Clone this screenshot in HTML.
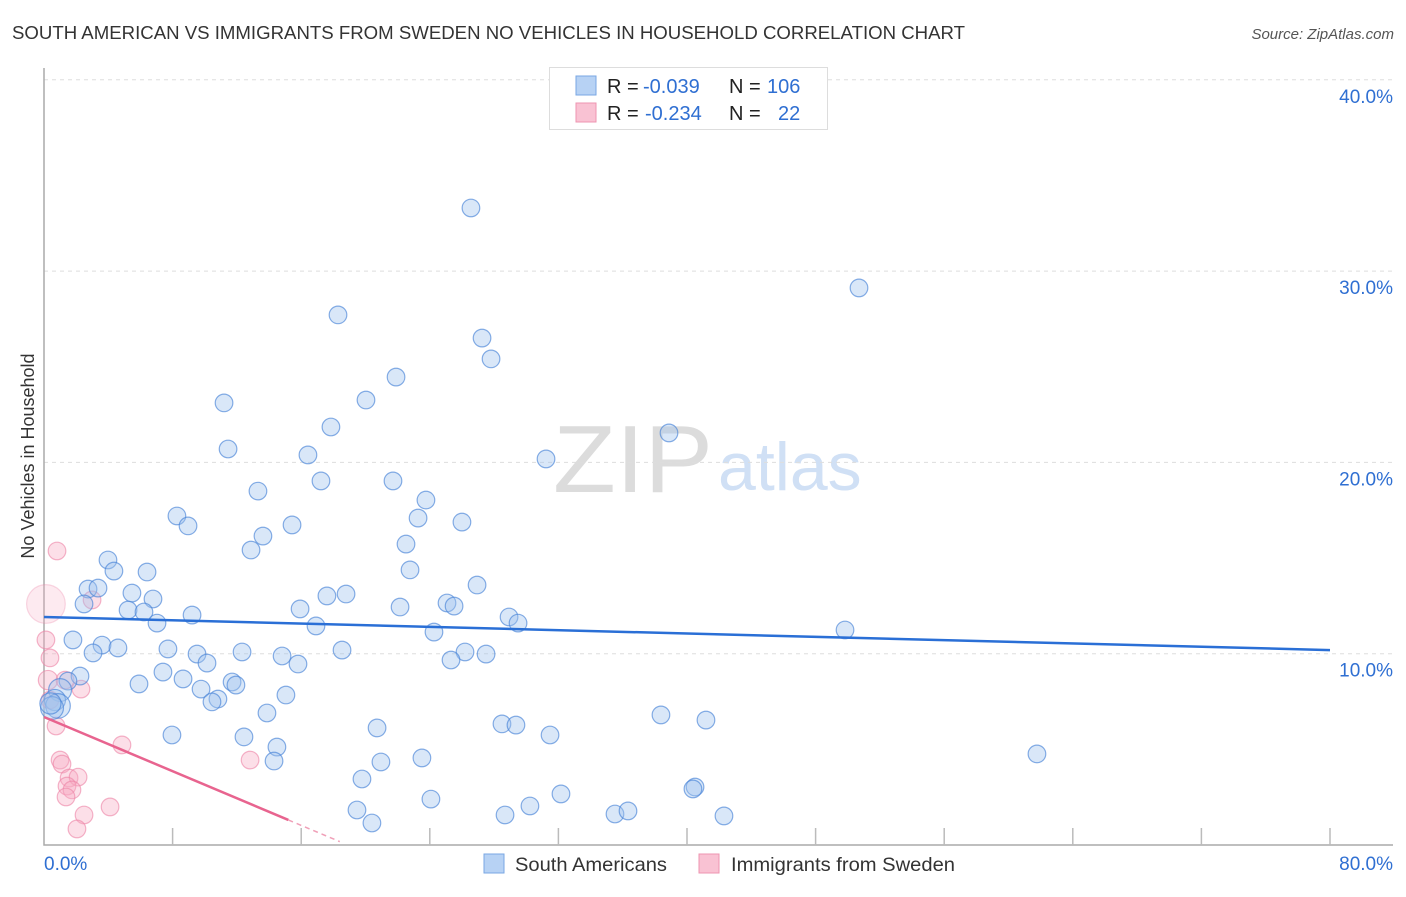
<!DOCTYPE html>
<html><head><meta charset="utf-8">
<style>
body{margin:0;background:#fff;font-family:"Liberation Sans",sans-serif;}
svg text{font-family:"Liberation Sans",sans-serif;}
</style></head>
<body>
<svg id="chart" width="1406" height="892" xmlns="http://www.w3.org/2000/svg">
<text x="12" y="39" font-size="18" fill="#333" textLength="953" lengthAdjust="spacingAndGlyphs">SOUTH AMERICAN VS IMMIGRANTS FROM SWEDEN NO VEHICLES IN HOUSEHOLD CORRELATION CHART</text>
<text x="1394" y="39" font-size="15" fill="#555" text-anchor="end" font-style="italic">Source: ZipAtlas.com</text>
<text x="553" y="492" font-size="96" fill="#dcdcdc" font-family="Liberation Serif" textLength="160" lengthAdjust="spacingAndGlyphs">ZIP</text>
<text x="718" y="490" font-size="68" fill="#d0e0f5">atlas</text>
<text transform="translate(34,456) rotate(-90)" font-size="18" fill="#333" text-anchor="middle">No Vehicles in Household</text>
<g id="grid"></g>
<g id="axes"></g>
<g id="pts"></g>
<g id="trends"></g>
<g>
<rect x="549.5" y="67.5" width="278" height="62" fill="#fff" stroke="#ddd"/>
<rect x="576" y="76" width="20" height="19" fill="#b7d2f4" stroke="#7aa7e3"/>
<rect x="576" y="103" width="20" height="19" fill="#f9c2d3" stroke="#ee94b0"/>
<text x="607" y="93" font-size="20" fill="#222">R = <tspan fill="#2f6fd2" x="643">-0.039</tspan><tspan x="729">N = </tspan><tspan fill="#2f6fd2" x="767">106</tspan></text>
<text x="607" y="120" font-size="20" fill="#222">R = <tspan fill="#2f6fd2" x="645">-0.234</tspan><tspan x="729">N = </tspan><tspan fill="#2f6fd2" x="778">22</tspan></text>
</g>
<g>
<rect x="484" y="854" width="20" height="19" fill="#b7d2f4" stroke="#7aa7e3"/>
<text x="515" y="871" font-size="19.5" fill="#333" textLength="152" lengthAdjust="spacingAndGlyphs">South Americans</text>
<rect x="699" y="854" width="20" height="19" fill="#f9c2d3" stroke="#ee94b0"/>
<text x="731" y="871" font-size="19.5" fill="#333" textLength="224" lengthAdjust="spacingAndGlyphs">Immigrants from Sweden</text>
</g>
</svg>
<script>
const blueX=[26.56,50.70,18.29,27.25,27.81,21.90,11.20,20.03,17.85,38.88,11.45,31.23,16.42,21.71,17.23,13.31,23.76,8.27,23.27,26.00,8.96,15.43,13.62,22.52,12.88,3.98,4.35,6.41,22.77,2.74,3.36,26.94,5.47,18.79,17.60,2.49,6.78,5.23,22.15,25.07,15.93,6.22,25.51,28.93,9.21,29.49,7.03,16.92,49.83,24.26,1.80,3.61,4.60,3.05,7.71,12.32,14.81,9.52,18.54,26.19,27.50,15.80,25.32,10.14,7.40,2.24,1.49,8.65,5.91,11.70,11.94,9.77,10.82,10.45,15.05,1.00,0.68,0.87,0.50,13.87,38.38,41.18,28.49,29.36,20.72,31.48,7.96,12.44,14.49,14.31,20.96,23.51,61.77,19.78,40.50,40.37,32.16,24.07,19.47,30.23,28.68,35.52,36.33,42.30,20.40,0.40];
const blueY=[33.30,29.12,27.71,26.50,25.41,24.46,23.11,23.26,21.85,21.54,20.70,20.18,20.39,19.03,19.03,18.50,18.03,17.20,17.09,16.88,16.68,16.73,16.15,15.73,15.42,14.90,14.32,14.27,14.38,13.38,13.43,13.59,13.17,13.12,13.02,12.60,12.86,12.28,12.44,12.65,12.34,12.18,12.49,11.92,12.02,11.60,11.60,11.45,11.24,11.13,10.72,10.45,10.30,10.04,10.25,10.09,9.88,9.98,10.19,10.09,9.98,9.46,9.67,9.51,9.04,8.83,8.57,8.68,8.42,8.52,8.36,8.15,7.63,7.48,7.84,8.10,7.58,7.27,7.16,6.90,6.80,6.53,6.33,6.27,6.12,5.75,5.75,5.65,5.12,4.39,4.34,4.55,4.76,3.45,3.03,2.93,2.67,2.40,1.83,2.04,1.57,1.62,1.78,1.52,1.15,7.40];
const blueSize=[1,1,1,1,1,1,1,1,1,1,1,1,1,1,1,1,1,1,1,1,1,1,1,1,1,1,1,1,1,1,1,1,1,1,1,1,1,1,1,1,1,1,1,1,1,1,1,1,1,1,1,1,1,1,1,1,1,1,1,1,1,1,1,1,1,1,1,1,1,1,1,1,1,1,1,1.3,1.2,1.4,1.3,1,1,1,1,1,1,1,1,1,1,1,1,1,1,1,1,1,1,1,1,1,1,1,1,1,1,1.2];
const pinkX=[0.12,0.81,2.99,0.37,2.30,0.75,4.85,12.82,1.00,1.12,1.56,2.12,1.43,1.74,1.37,2.49,4.11,2.05,0.25,1.31,0.37,0.12];
const pinkY=[12.60,15.37,12.81,9.78,8.15,6.22,5.23,4.44,4.44,4.23,3.50,3.55,3.08,2.88,2.51,1.57,1.99,0.84,8.62,8.62,7.58,10.72];
const pinkSize=[2.2,1,1,1,1,1,1,1,1,1,1,1,1,1,1,1,1,1,1.1,1,1,1];
const yTicks=[10,20,30,40];
const yTickLabels=["10.0%","20.0%","30.0%","40.0%"];
const xTicks=[0,8,16,24,32,40,48,56,64,72,80];
const blueTrend=[11.92,10.19];
const pinkTrend=[6.69,-0.354];
const NS="http://www.w3.org/2000/svg";
const sx=v=>44+v/80*1286;
const sy=v=>845-v*19.13;
function mk(tag,attrs,parent){const e=document.createElementNS(NS,tag);for(const k in attrs)e.setAttribute(k,attrs[k]);parent.appendChild(e);return e;}
const grid=document.getElementById('grid'),axes=document.getElementById('axes'),pts=document.getElementById('pts'),tr=document.getElementById('trends');
yTicks.forEach((t,i)=>{
 const l=mk('line',{x1:44,x2:1393,y1:sy(t),y2:sy(t),stroke:'#ddd','stroke-dasharray':'4,4'},grid);
 
 
 const tx=mk('text',{x:1393,y:sy(t)+23,'font-size':19,fill:'#2f6fd2','text-anchor':'end'},grid);
 tx.textContent=yTickLabels[i];
 
 
});
const ax=mk('path',{d:'M44,68V845H1393',fill:'none',stroke:'#aaa','stroke-width':1.5},axes);


xTicks.slice(1).forEach(t=>{
 const l=mk('line',{x1:sx(t),x2:sx(t),y1:828,y2:845,stroke:'#bbb','stroke-width':1.5},axes);
 
 
});
const x0=mk('text',{x:44,y:870,'font-size':19,fill:'#2f6fd2'},axes);x0.textContent=xTicks[0].toFixed(1)+'%';


const x1=mk('text',{x:1393,y:870,'font-size':19,fill:'#2f6fd2','text-anchor':'end'},axes);x1.textContent=xTicks[xTicks.length-1].toFixed(1)+'%';


pinkX.forEach((v,i)=>{
 const big=pinkSize[i]>1.5;
 const c=mk('circle',{cx:sx(v),cy:sy(pinkY[i]),r:8.8*pinkSize[i],fill:big?'rgba(246,170,195,0.25)':'rgba(246,170,195,0.38)',stroke:big?'rgba(236,130,165,0.3)':'rgba(236,130,165,0.6)','stroke-width':1.2},pts);
 
 
});
blueX.forEach((v,i)=>{
 const c=mk('circle',{cx:sx(v),cy:sy(blueY[i]),r:8.8*blueSize[i],fill:'rgba(160,196,238,0.4)',stroke:'rgba(70,130,215,0.65)','stroke-width':1.2},pts);
 
 
});
const bt=mk('line',{x1:sx(0),y1:sy(blueTrend[0]),x2:sx(80),y2:sy(blueTrend[1]),stroke:'#2a6fd6','stroke-width':2.5},tr);


const pe=15.2,pd=18.4;
const pt=mk('line',{x1:sx(0),y1:sy(pinkTrend[0]),x2:sx(pe),y2:sy(pinkTrend[0]+pinkTrend[1]*pe),stroke:'#e8648f','stroke-width':2.5},tr);


const pdl=mk('line',{x1:sx(pe),y1:sy(pinkTrend[0]+pinkTrend[1]*pe),x2:sx(pd),y2:sy(pinkTrend[0]+pinkTrend[1]*pd),stroke:'#f0a0b8','stroke-width':1.5,'stroke-dasharray':'5,4'},tr);


</script>
</body></html>
